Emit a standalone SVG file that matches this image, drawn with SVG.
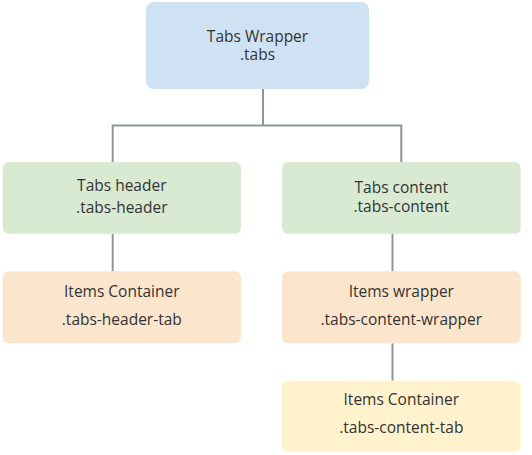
<svg xmlns="http://www.w3.org/2000/svg" width="532" height="455" viewBox="0 0 532 455">
<style>
.box{stroke:none}
.blue{fill:#cfe2f3}
.green{fill:#d9ead3}
.orange{fill:#fce5cd}
.yellow{fill:#fff2cc}
.t{font-family:"Open Sans","Noto Sans","DejaVu Sans",sans-serif;font-size:15.5px;fill:#333333;text-anchor:middle}
.c{fill:none;stroke:#8e969b;stroke-width:2}
</style>
<rect width="532" height="455" fill="#ffffff"/>
<g id="connectors">
<path class="c" d="M263 89V125.5M112.7 162V125.5H401.3V162"/>
<path class="c" d="M112.7 233.7V271.3"/>
<path class="c" d="M392.5 233.7V271.3"/>
<path class="c" d="M392.5 343.3V380.7"/>
</g>
<g id="tabs-wrapper">
<rect class="box blue" x="146" y="2" width="223" height="87" rx="8"/>
<text class="t" x="257.5" y="42">Tabs Wrapper</text>
<text class="t" x="257.5" y="60">.tabs</text>
</g>
<g id="tabs-header">
<rect class="box green" x="2.7" y="162" width="238.3" height="71.7" rx="6"/>
<text class="t" x="121.8" y="190.5">Tabs header</text>
<text class="t" x="121.8" y="213">.tabs-header</text>
</g>
<g id="tabs-content">
<rect class="box green" x="282" y="162" width="238.7" height="71.7" rx="6"/>
<text class="t" x="401.3" y="192.5">Tabs content</text>
<text class="t" x="401.3" y="211.5">.tabs-content</text>
</g>
<g id="header-items-container">
<rect class="box orange" x="2.7" y="271.3" width="238.3" height="72" rx="6"/>
<text class="t" x="121.8" y="296.7">Items Container</text>
<text class="t" x="121.8" y="325.3">.tabs-header-tab</text>
</g>
<g id="items-wrapper">
<rect class="box orange" x="282" y="271.3" width="238.7" height="72" rx="6"/>
<text class="t" x="401.3" y="296.7">Items wrapper</text>
<text class="t" x="401.3" y="325.3">.tabs-content-wrapper</text>
</g>
<g id="content-items-container">
<rect class="box yellow" x="282" y="380.7" width="238.7" height="71" rx="6"/>
<text class="t" x="401.3" y="405">Items Container</text>
<text class="t" x="401.3" y="433.3">.tabs-content-tab</text>
</g>
</svg>
